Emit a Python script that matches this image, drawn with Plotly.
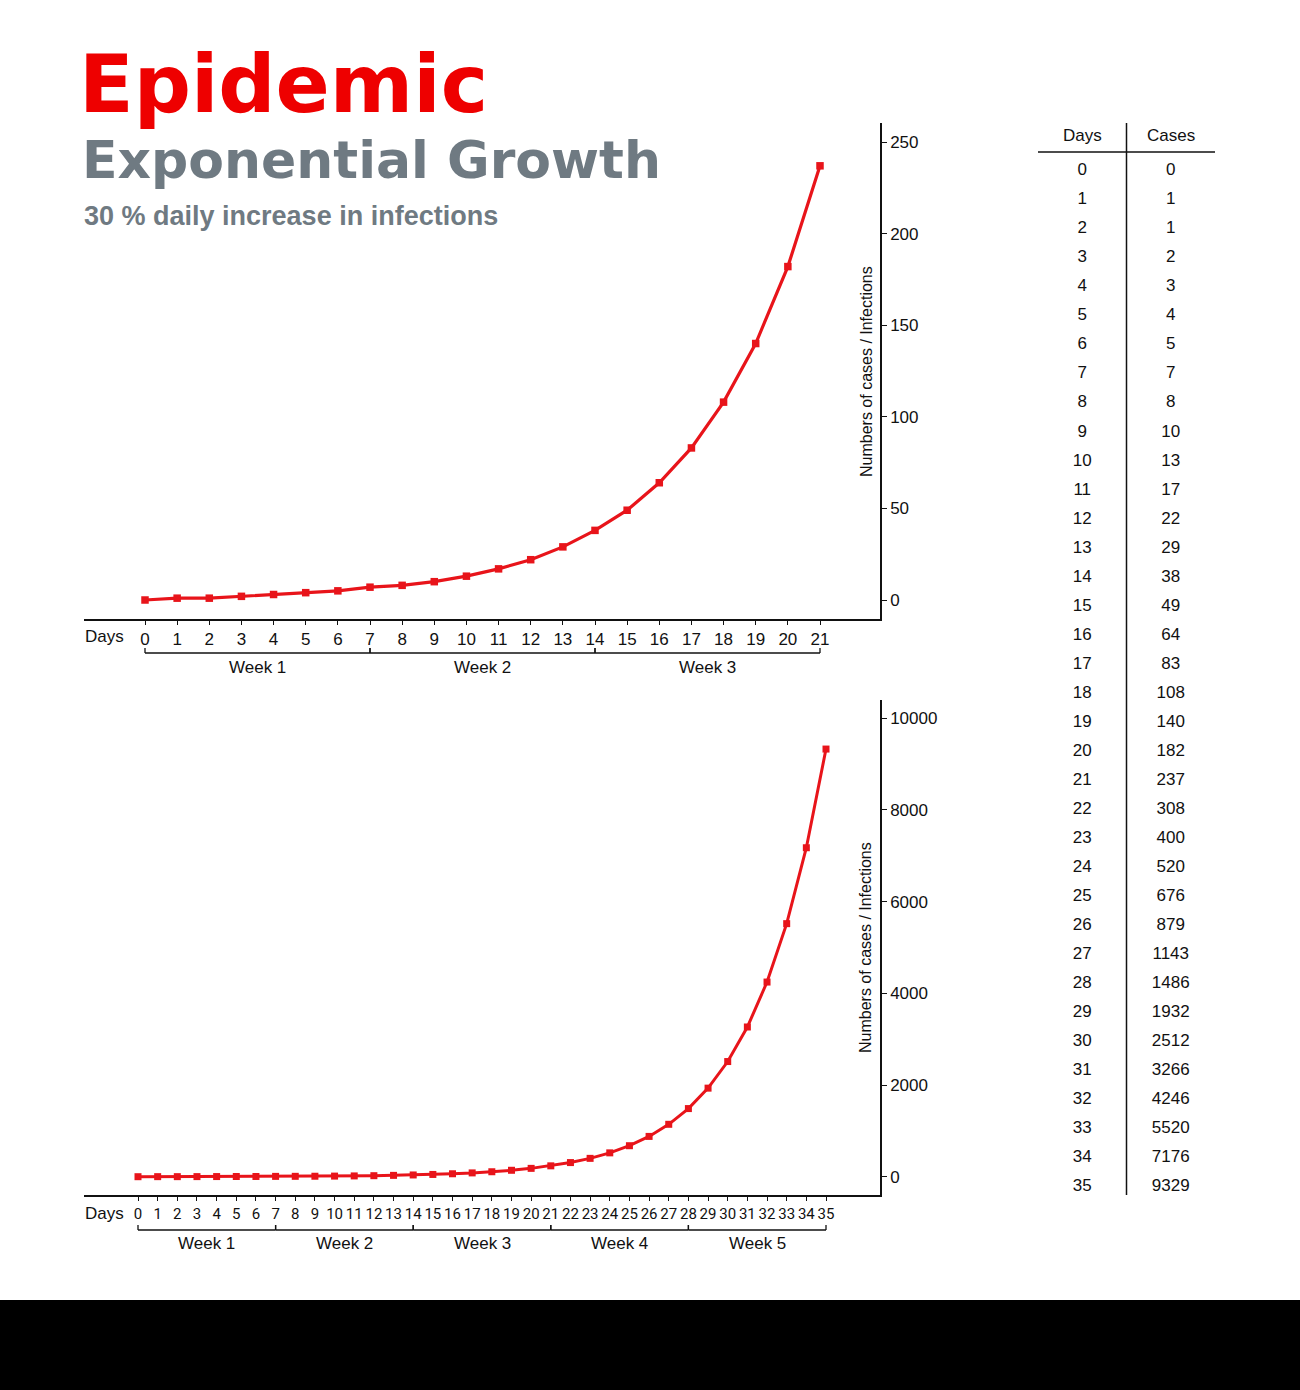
import plotly.graph_objects as go

W, H = 1300, 1390

# ---------------- data ----------------
days_all = list(range(36))
cases_all = [0, 1, 1, 2, 3, 4, 5, 7, 8, 10, 13, 17, 22, 29, 38, 49, 64, 83,
             108, 140, 182, 237, 308, 400, 520, 676, 879, 1143, 1486, 1932,
             2512, 3266, 4246, 5520, 7176, 9329]
days_top = days_all[:22]
cases_top = cases_all[:22]
weeks_top = ["Week 1", "Week 2", "Week 3"]
weeks_bottom = ["Week 1", "Week 2", "Week 3", "Week 4", "Week 5"]
yticks_top = [0, 50, 100, 150, 200, 250]
yticks_bottom = [0, 2000, 4000, 6000, 8000, 10000]
title_main = "Epidemic"
title_sub = "Exponential Growth"
title_note = "30 % daily increase in infections"
y_title = "Numbers of cases / Infections"
table_headers = ["Days", "Cases"]

RED = "#e8141a"
TITLE_RED = "#ee0000"
GRAY = "#6f7a82"
FONT = "Liberation Sans"
NARROW = "Liberation Sans Narrow, Roboto"


def px(p):
    return p / W


def py(p):
    return 1 - p / H


fig = go.Figure()

# top chart
fig.add_trace(go.Scatter(
    x=days_top, y=cases_top, mode="lines+markers",
    line=dict(color=RED, width=3.2),
    marker=dict(symbol="square", size=7.5, color=RED),
    xaxis="x", yaxis="y", hoverinfo="skip"))

# bottom chart
fig.add_trace(go.Scatter(
    x=days_all, y=cases_all, mode="lines+markers",
    line=dict(color=RED, width=3),
    marker=dict(symbol="square", size=7, color=RED),
    xaxis="x2", yaxis="y2", hoverinfo="skip"))

# table columns
fig.add_trace(go.Scatter(
    x=[0.5] * len(days_all), y=days_all, text=[str(d) for d in days_all],
    mode="text", textfont=dict(family=FONT, size=17, color="#111"),
    xaxis="x3", yaxis="y3", hoverinfo="skip"))
fig.add_trace(go.Scatter(
    x=[1.5] * len(days_all), y=days_all, text=[str(c) for c in cases_all],
    mode="text", textfont=dict(family=FONT, size=17, color="#111"),
    xaxis="x3", yaxis="y3", hoverinfo="skip"))

axis_common = dict(showgrid=False, zeroline=False, showline=True,
                   linecolor="#111", linewidth=1.5, ticks="outside",
                   tickcolor="#111", tickwidth=1)

# top: day0 at 145px, day21 at 820px ; y=0 at 600px, 250 at 142px
sx1 = (820 - 145) / 21
sy1 = (600 - 142) / 250
# bottom: day0 at 138px, day35 at 826px ; y=0 at 1176.7px, 10000 at 718.3px
sx2 = (826 - 138) / 35
sy2 = (1176.7 - 718.3) / 10000

fig.update_layout(
    width=W, height=H, autosize=False,
    margin=dict(l=0, r=0, t=0, b=0),
    paper_bgcolor="white", plot_bgcolor="white",
    showlegend=False,
    xaxis=dict(domain=[px(84), px(880)],
               range=[(84 - 145) / sx1, (880 - 145) / sx1],
               anchor="y", tickvals=days_top, ticklen=4,
               tickfont=dict(family=FONT, size=17, color="#111"),
               **axis_common),
    yaxis=dict(domain=[py(619), py(123)],
               range=[-(619 - 600) / sy1, (600 - 123) / sy1],
               anchor="x", side="right", tickvals=yticks_top, ticklen=5,
               tickfont=dict(family=FONT, size=17, color="#111"),
               **axis_common),
    xaxis2=dict(domain=[px(84), px(880)],
                range=[(84 - 138) / sx2, (880 - 138) / sx2],
                anchor="y2", tickvals=days_all, ticklen=4,
                tickfont=dict(family=NARROW, size=15, color="#111"),
                **axis_common),
    yaxis2=dict(domain=[py(1195), py(700)],
                range=[-(1195 - 1176.7) / sy2, (1176.7 - 700) / sy2],
                anchor="x2", side="right", tickvals=yticks_bottom, ticklen=5,
                tickformat="d",
                tickfont=dict(family=FONT, size=17, color="#111"),
                **axis_common),
    xaxis3=dict(domain=[px(1038), px(1215)], range=[0, 2], visible=False),
    yaxis3=dict(domain=[py(1195), py(123)],
                range=[(1195 - 171) / 29.03, (123 - 171) / 29.03],
                visible=False),
)

annotations = []
shapes = []

# titles
annotations.append(dict(text=title_main, xref="paper", yref="paper",
                        x=px(77), y=py(85), xanchor="left", yanchor="middle",
                        showarrow=False,
                        font=dict(family="DejaVu Sans", size=80, color=TITLE_RED,
                                  weight="bold")))
annotations.append(dict(text=title_sub, xref="paper", yref="paper",
                        x=px(80), y=py(160), xanchor="left", yanchor="middle",
                        showarrow=False,
                        font=dict(family="DejaVu Sans", size=52, color=GRAY,
                                  weight="bold")))
annotations.append(dict(text=title_note, xref="paper", yref="paper",
                        x=px(82), y=py(216), xanchor="left", yanchor="middle",
                        showarrow=False,
                        font=dict(family=FONT, size=27, color=GRAY,
                                  weight="bold")))

# "Days" labels
for ycen in (636, 1213):
    annotations.append(dict(text="Days", xref="paper", yref="paper",
                            x=px(83), y=py(ycen), xanchor="left",
                            yanchor="middle", showarrow=False,
                            font=dict(family=FONT, size=17, color="#111")))

# y axis titles
for ycen in (372, 948):
    annotations.append(dict(text=y_title, xref="paper", yref="paper",
                            x=px(866), y=py(ycen), xanchor="center",
                            yanchor="middle", textangle=-90, showarrow=False,
                            font=dict(family=FONT, size=16, color="#111")))


def week_brackets(weeks, xref, ybar, ylab):
    for i, w in enumerate(weeks):
        d0, d1 = 7 * i, 7 * (i + 1)
        shapes.append(dict(type="line", xref=xref, yref="paper",
                           x0=d0, x1=d1, y0=py(ybar), y1=py(ybar),
                           line=dict(color="#111", width=1.3)))
        for d in (d0, d1):
            shapes.append(dict(type="line", xref=xref, yref="paper",
                               x0=d, x1=d, y0=py(ybar), y1=py(ybar - 5),
                               line=dict(color="#111", width=1.3)))
        annotations.append(dict(text=w, xref=xref, yref="paper",
                                x=(d0 + d1) / 2, y=py(ylab), xanchor="center",
                                yanchor="middle", showarrow=False,
                                font=dict(family=FONT, size=17, color="#111")))


week_brackets(weeks_top, "x", 653, 667)
week_brackets(weeks_bottom, "x2", 1230, 1243)

# table header and lines
for i, h in enumerate(table_headers):
    annotations.append(dict(text=h, xref="x3", yref="y3", x=0.5 + i,
                            y=(136 - 171) / 29.03, xanchor="center",
                            yanchor="middle", showarrow=False,
                            font=dict(family=FONT, size=17, color="#111")))
shapes.append(dict(type="line", xref="x3", yref="y3", x0=0, x1=2,
                   y0=(152 - 171) / 29.03, y1=(152 - 171) / 29.03,
                   line=dict(color="#111", width=1.5)))
shapes.append(dict(type="line", xref="x3", yref="y3", x0=1, x1=1,
                   y0=(123 - 171) / 29.03, y1=(1195 - 171) / 29.03,
                   line=dict(color="#111", width=1.5)))

# black band at the bottom
shapes.append(dict(type="rect", xref="paper", yref="paper", x0=0, x1=1,
                   y0=0, y1=py(1300), fillcolor="black",
                   line=dict(width=0), layer="below"))

fig.update_layout(annotations=annotations, shapes=shapes)

fig.write_html("out.html",
               config={"displayModeBar": False},
               post_script="document.body.style.margin='0';"
                           "document.body.style.overflow='hidden';")
